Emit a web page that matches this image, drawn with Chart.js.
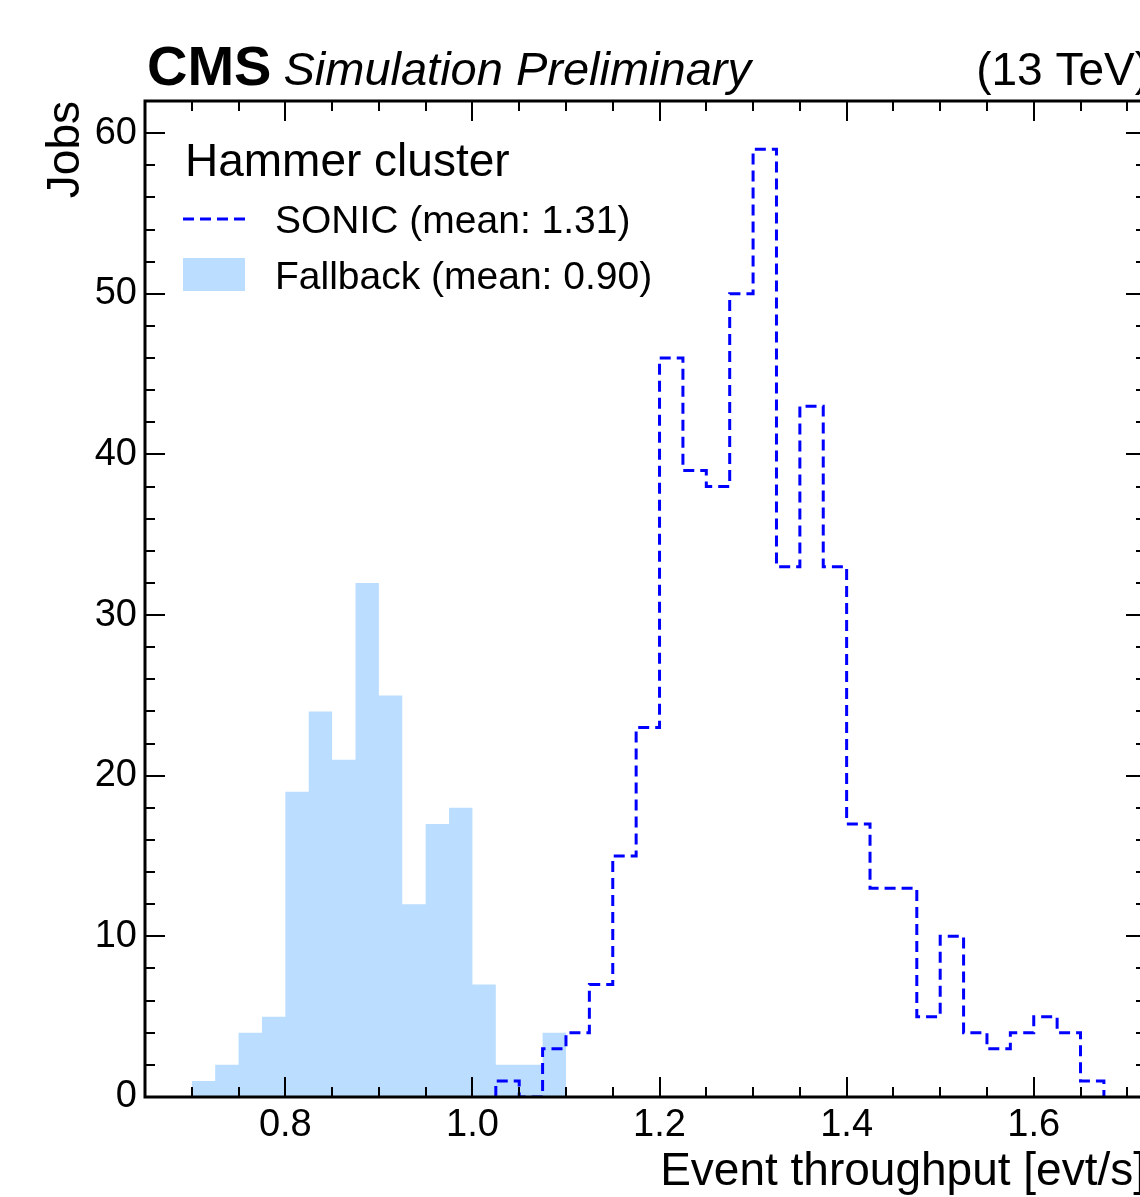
<!DOCTYPE html>
<html>
<head>
<meta charset="utf-8">
<script src="https://cdn.jsdelivr.net/npm/chart.js@4.4.1/dist/chart.umd.min.js"></script>
<style>
  html, body { margin: 0; padding: 0; background: #fff; overflow: hidden; }
  canvas { display: block; }
</style>
</head>
<body>
<canvas id="myChart" width="1180" height="1197"></canvas>
<script>
const ctx = document.getElementById("myChart").getContext("2d");

// histogram bins (width 0.025 evt/s)
const binWidth = 0.025;
const sonicStart = 1.025;
const sonicCounts = [1, 0, 3, 4, 7, 15, 23, 46, 39, 38, 50, 59, 33, 43, 33, 17, 13, 13, 5, 10, 4, 3, 4, 5, 4, 1];
const fallbackStart = 0.70;
const fallbackCounts = [1, 2, 4, 5, 19, 24, 21, 32, 25, 12, 17, 18, 7, 2, 2, 4];

const xTicks = [0.8, 1.0, 1.2, 1.4, 1.6];
const yTicks = [0, 10, 20, 30, 40, 50, 60];
const xRange = [0.65, 1.72];
const yRange = [0, 62];

const legendTitle = "Hammer cluster";
const sonicLabel = "SONIC (mean: 1.31)";
const fallbackLabel = "Fallback (mean: 0.90)";

const FONT = "'Liberation Sans', Arial, Helvetica, sans-serif";
const sonicColor = "#0000ff";
const fallbackColor = "rgba(30, 144, 255, 0.3)";

// outline of a histogram: corner points of each bin, closed to zero at both ends
function histOutline(start, counts) {
   const pts = [{ x: start, y: 0 }];
   counts.forEach((c, i) => {
      pts.push({ x: start + i * binWidth, y: c });
      pts.push({ x: start + (i + 1) * binWidth, y: c });
   });
   pts.push({ x: start + counts.length * binWidth, y: 0 });
   return pts;
}

function minorValues(min, max, step) {
   const out = [];
   for (let v = Math.ceil(min / step - 1e-9) * step; v <= max + 1e-9; v += step) out.push(v);
   return out;
}

const framePlugin = {
   id: "cmsFrame",
   afterDatasetsDraw(chart) {
      const c = chart.ctx;
      const a = chart.chartArea;
      const xs = chart.scales.x;
      const ys = chart.scales.y;
      c.save();
      c.strokeStyle = "#000";
      c.lineWidth = 2;
      c.beginPath();
      // x ticks (bottom and top, pointing in)
      minorValues(xRange[0], xRange[1], 0.05).forEach(v => {
         const px = Math.round(xs.getPixelForValue(v));
         const major = xTicks.some(t => Math.abs(t - v) < 1e-6);
         const len = major ? 20 : 10;
         c.moveTo(px, a.bottom); c.lineTo(px, a.bottom - len);
         c.moveTo(px, a.top); c.lineTo(px, a.top + len);
      });
      // y ticks (left and right, pointing in)
      minorValues(yRange[0], yRange[1], 2).forEach(v => {
         const py = Math.round(ys.getPixelForValue(v));
         const major = yTicks.includes(Math.round(v));
         const len = major ? 20 : 10;
         c.moveTo(a.left, py); c.lineTo(a.left + len, py);
         c.moveTo(a.right, py); c.lineTo(a.right - len, py);
      });
      c.stroke();
      c.lineWidth = 3;
      c.strokeRect(a.left, a.top, a.right - a.left, a.bottom - a.top);
      c.restore();
   },
   afterDraw(chart) {
      const c = chart.ctx;
      const a = chart.chartArea;
      c.save();
      c.fillStyle = "#000";
      c.textBaseline = "alphabetic";
      // header
      c.textAlign = "left";
      c.font = "bold 56px " + FONT;
      c.fillText("CMS", a.left + 2, 85);
      const cmsW = c.measureText("CMS").width;
      c.font = "italic 47px " + FONT;
      c.fillText("Simulation Preliminary", a.left + 2 + cmsW + 12, 85);
      c.textAlign = "right";
      c.font = "46px " + FONT;
      c.fillText("(13 TeV)", a.right + 4, 85);

      // legend
      const lx = a.left + 38;
      c.textAlign = "left";
      c.font = "46px " + FONT;
      c.fillText(legendTitle, lx + 2, 176);

      c.strokeStyle = sonicColor;
      c.lineWidth = 3;
      c.setLineDash([11, 6]);
      c.beginPath();
      c.moveTo(lx, 219);
      c.lineTo(lx + 62, 219);
      c.stroke();
      c.setLineDash([]);

      c.fillStyle = fallbackColor;
      c.fillRect(lx, 258, 62, 33);

      c.fillStyle = "#000";
      c.font = "39px " + FONT;
      c.fillText(sonicLabel, lx + 92, 233);
      c.fillText(fallbackLabel, lx + 92, 289);
      c.restore();
   }
};

const data = {
   datasets: [
      {
         label: fallbackLabel,
         data: histOutline(fallbackStart, fallbackCounts),
         borderWidth: 0,
         borderColor: "rgba(0,0,0,0)",
         backgroundColor: fallbackColor,
         fill: "origin",
         pointRadius: 0,
         tension: 0,
         order: 2
      },
      {
         label: sonicLabel,
         data: histOutline(sonicStart, sonicCounts),
         borderWidth: 3,
         borderColor: sonicColor,
         borderDash: [11, 6],
         fill: false,
         pointRadius: 0,
         tension: 0,
         order: 1
      }
   ]
};

const config = {
   type: "line",
   data: data,
   plugins: [framePlugin],
   options: {
      responsive: false,
      animation: false,
      devicePixelRatio: 1,
      layout: {
         padding: { top: 101, right: 34, bottom: 0, left: 0 }
      },
      plugins: {
         legend: { display: false },
         tooltip: { enabled: false }
      },
      scales: {
         x: {
            type: "linear",
            min: xRange[0],
            max: xRange[1],
            afterFit: (scale) => { scale.height = 100; },
            afterBuildTicks: (scale) => { scale.ticks = xTicks.map(v => ({ value: v })); },
            grid: { display: false, drawTicks: false },
            border: { display: false },
            ticks: {
               padding: 6,
               color: "#000",
               font: { family: FONT, size: 38 },
               maxRotation: 0,
               callback: (v) => Number(v).toFixed(1)
            },
            title: {
               display: true,
               text: "Event throughput [evt/s]",
               align: "end",
               color: "#000",
               font: { family: FONT, size: 46, lineHeight: 1 },
               padding: { top: 0, bottom: 2 }
            }
         },
         y: {
            type: "linear",
            min: yRange[0],
            max: yRange[1],
            afterFit: (scale) => { scale.width = 145; },
            afterBuildTicks: (scale) => { scale.ticks = yTicks.map(v => ({ value: v })); },
            grid: { display: false, drawTicks: false },
            border: { display: false },
            ticks: {
               padding: 8,
               color: "#000",
               font: { family: FONT, size: 38 }
            },
            title: {
               display: true,
               text: "Jobs",
               align: "end",
               color: "#000",
               font: { family: FONT, size: 46, lineHeight: 1 },
               padding: { top: 43, bottom: 0 }
            }
         }
      }
   }
};

const myChart = new Chart(ctx, config);
</script>
</body>
</html>
